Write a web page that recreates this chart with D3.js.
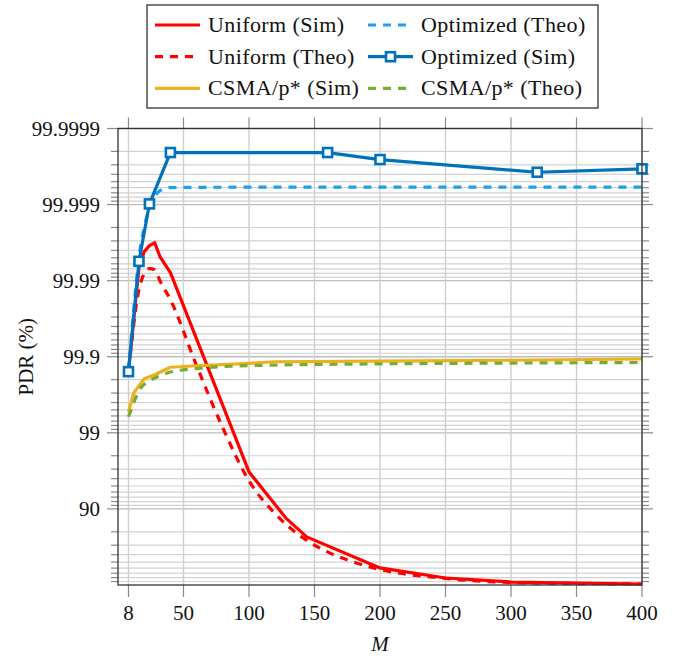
<!DOCTYPE html>
<html>
<head>
<meta charset="utf-8">
<script src="https://cdn.jsdelivr.net/npm/d3@7"></script>
<style>
    body { margin: 0; background: #fff; }
</style>
</head>
<body>
<div id="plot"></div>
<script>
// M values and PDR (%)
const uniformSimM = [8, 16, 20, 24, 28, 32, 40, 100, 128, 144, 200, 250, 300, 400];
const uniformSimPdr = [99.843, 99.99325, 99.99585, 99.99654, 99.99684, 99.99517, 99.99215, 96.74, 86.9, 76.7, 40.3, 19.1, 8.6, 3.0];

const uniformTheoM = [8, 16, 20, 24, 28, 32, 40, 60, 80, 100, 120, 140, 160, 180, 200, 250, 300, 400];
const uniformTheoPdr = [99.843, 99.98688, 99.99191, 99.99305, 99.99284, 99.99, 99.98222, 99.869, 99.141, 95.72, 88.4, 76.8, 63.3, 49.9, 37.5, 18.0, 7.3, 3.0];

const optTheoM = [8, 12, 16, 20, 24, 28, 32, 40, 100, 200, 300, 400];
const optTheoPdr = [99.843, 99.9759, 99.99502, 99.99799, 99.998906, 99.999215, 99.999345, 99.999403, 99.999409, 99.999409, 99.999409, 99.999409];

const optSimM = [8, 16, 24, 40, 160, 200, 320, 400];
const optSimPdr = [99.843, 99.99443, 99.99902, 99.999793, 99.999793, 99.999744, 99.999624, 99.999661];

const csmaSimM = [8, 12, 20, 28, 40, 60, 100, 120, 200, 300, 400];
const csmaSimPdr = [99.47, 99.702, 99.8055, 99.8274, 99.8626, 99.8688, 99.8781, 99.8836, 99.8855, 99.8888, 99.8929];

const csmaTheoM = [8, 12, 16, 24, 32, 40, 60, 100, 200, 300, 400];
const csmaTheoPdr = [99.385, 99.597, 99.72, 99.793, 99.822, 99.841, 99.857, 99.869, 99.876, 99.879, 99.881];

const xTicks = [8, 50, 100, 150, 200, 250, 300, 350, 400];
const yTickLabels = ["99.9999", "99.999", "99.99", "99.9", "99", "90"];

// legend order is row-wise, two columns
const series = [
    { name: "Uniform (Sim)", m: uniformSimM, pdr: uniformSimPdr, color: "#ff0000", dash: null },
    { name: "Optimized (Theo)", m: optTheoM, pdr: optTheoPdr, color: "#1e9ff2", dash: "8 7", smooth: true },
    { name: "Uniform (Theo)", m: uniformTheoM, pdr: uniformTheoPdr, color: "#ff0000", dash: "8 7", smooth: true },
    { name: "Optimized (Sim)", m: optSimM, pdr: optSimPdr, color: "#0072bd", dash: null, marker: true },
    { name: "CSMA/p* (Sim)", m: csmaSimM, pdr: csmaSimPdr, color: "#edb120", dash: null },
    { name: "CSMA/p* (Theo)", m: csmaTheoM, pdr: csmaTheoPdr, color: "#77ac30", dash: "8 7", smooth: true }
];
const drawOrder = [0, 2, 4, 1, 3, 5];

const W = 687, H = 658;
const pLeft = 118, pRight = 642, pTop = 128.5, pBottom = 585;
const FONT = "Liberation Serif";

const svg = d3.select("#plot").append("svg")
    .attr("width", W)
    .attr("height", H)
    .attr("font-family", FONT);

const x = d3.scaleLinear().domain([0, 400]).range([pLeft, pRight]);
// "nines" axis: log of the loss, 100 - PDR
const y = d3.scaleLog().domain([1e-4, 100]).range([pTop, pBottom]);
const yPdr = p => y(100 - p);

const majorLoss = d3.range(-4, 2).map(k => Math.pow(10, k));
const minorLoss = [];
d3.range(-4, 2).forEach(k => {
    for (let j = 2; j <= 9; j++) minorLoss.push(j * Math.pow(10, k));
});

// grid
const grid = svg.append("g");
grid.selectAll(".minor").data(minorLoss).enter().append("line")
    .attr("x1", pLeft).attr("x2", pRight)
    .attr("y1", d => y(d)).attr("y2", d => y(d))
    .style("stroke", "#d2d2d2").style("stroke-width", 1.2);
grid.selectAll(".major").data(majorLoss).enter().append("line")
    .attr("x1", pLeft).attr("x2", pRight)
    .attr("y1", d => y(d)).attr("y2", d => y(d))
    .style("stroke", "#bdbdbd").style("stroke-width", 1.3);
grid.selectAll(".vgrid").data(xTicks).enter().append("line")
    .attr("x1", d => x(d)).attr("x2", d => x(d))
    .attr("y1", pTop).attr("y2", pBottom)
    .style("stroke", "#cfcfcf").style("stroke-width", 1.4);

// tick marks outside the box on all four sides
const ticks = svg.append("g").style("stroke", "#8a8a8a").style("stroke-width", 1.2);
xTicks.forEach(v => {
    ticks.append("line").attr("x1", x(v)).attr("x2", x(v)).attr("y1", pTop - 11).attr("y2", pTop);
    ticks.append("line").attr("x1", x(v)).attr("x2", x(v)).attr("y1", pBottom).attr("y2", pBottom + 12);
});
majorLoss.forEach(v => {
    ticks.append("line").attr("x1", pLeft - 11).attr("x2", pLeft).attr("y1", y(v)).attr("y2", y(v));
    ticks.append("line").attr("x1", pRight).attr("x2", pRight + 11).attr("y1", y(v)).attr("y2", y(v));
});
minorLoss.forEach(v => {
    ticks.append("line").attr("x1", pLeft - 7).attr("x2", pLeft).attr("y1", y(v)).attr("y2", y(v));
    ticks.append("line").attr("x1", pRight).attr("x2", pRight + 7).attr("y1", y(v)).attr("y2", y(v));
});

// series
const lineGen = d3.line().x(d => x(d[0])).y(d => yPdr(d[1]));
const plotArea = svg.append("g");
drawOrder.forEach(i => {
    const s = series[i];
    const pts = s.m.map((m, k) => [m, s.pdr[k]]);
    plotArea.append("path")
        .datum(pts)
        .attr("d", lineGen.curve(s.smooth ? d3.curveMonotoneX : d3.curveLinear))
        .style("fill", "none")
        .style("stroke", s.color)
        .style("stroke-width", 3.2)
        .style("stroke-dasharray", s.dash)
        .style("stroke-linejoin", "round");
    if (s.marker) {
        plotArea.selectAll(".mk" + i).data(pts).enter().append("rect")
            .attr("x", d => x(d[0]) - 4.5)
            .attr("y", d => yPdr(d[1]) - 4.5)
            .attr("width", 9).attr("height", 9)
            .style("fill", "#fff")
            .style("stroke", s.color)
            .style("stroke-width", 2.6);
    }
});

// box
svg.append("rect")
    .attr("x", pLeft).attr("y", pTop)
    .attr("width", pRight - pLeft).attr("height", pBottom - pTop)
    .style("fill", "none").style("stroke", "#333").style("stroke-width", 1.3);

// tick labels
svg.selectAll(".xl").data(xTicks).enter().append("text")
    .attr("x", d => x(d)).attr("y", 620)
    .attr("text-anchor", "middle")
    .attr("font-family", FONT)
    .style("font-size", "21px").style("fill", "#111")
    .text(d => d);
svg.selectAll(".yl").data(majorLoss).enter().append("text")
    .attr("x", 100).attr("y", d => y(d) + 7)
    .attr("text-anchor", "end")
    .attr("font-family", FONT)
    .style("font-size", "21px").style("fill", "#111")
    .text((d, i) => yTickLabels[i]);

// axis titles
svg.append("text")
    .attr("x", (pLeft + pRight) / 2).attr("y", 651)
    .attr("text-anchor", "middle")
    .attr("font-family", FONT)
    .style("font-size", "21px").style("font-style", "italic").style("fill", "#111")
    .text("M");
svg.append("text")
    .attr("transform", `translate(33,${(pTop + pBottom) / 2}) rotate(-90)`)
    .attr("text-anchor", "middle")
    .attr("font-family", FONT)
    .style("font-size", "21px").style("fill", "#111")
    .text("PDR (%)");

// legend
const lg = svg.append("g");
lg.append("rect")
    .attr("x", 147).attr("y", 5).attr("width", 451).attr("height", 103)
    .style("fill", "#fff").style("stroke", "#333").style("stroke-width", 1.3);
series.forEach((s, i) => {
    const col = i % 2, row = Math.floor(i / 2);
    const lx = col === 0 ? 155 : 368;
    const ly = 25 + row * 31.7;
    lg.append("line")
        .attr("x1", lx).attr("x2", lx + 45).attr("y1", ly).attr("y2", ly)
        .style("stroke", s.color).style("stroke-width", 3.2)
        .style("stroke-dasharray", s.dash);
    if (s.marker) {
        lg.append("rect")
            .attr("x", lx + 22.5 - 4.5).attr("y", ly - 4.5)
            .attr("width", 9).attr("height", 9)
            .style("fill", "#fff").style("stroke", s.color).style("stroke-width", 2.6);
    }
    lg.append("text")
        .attr("x", lx + 53).attr("y", ly + 7)
        .attr("font-family", FONT)
        .style("font-size", "22px").style("letter-spacing", "0.4px").style("fill", "#111")
        .text(s.name);
});
</script>
</body>
</html>
